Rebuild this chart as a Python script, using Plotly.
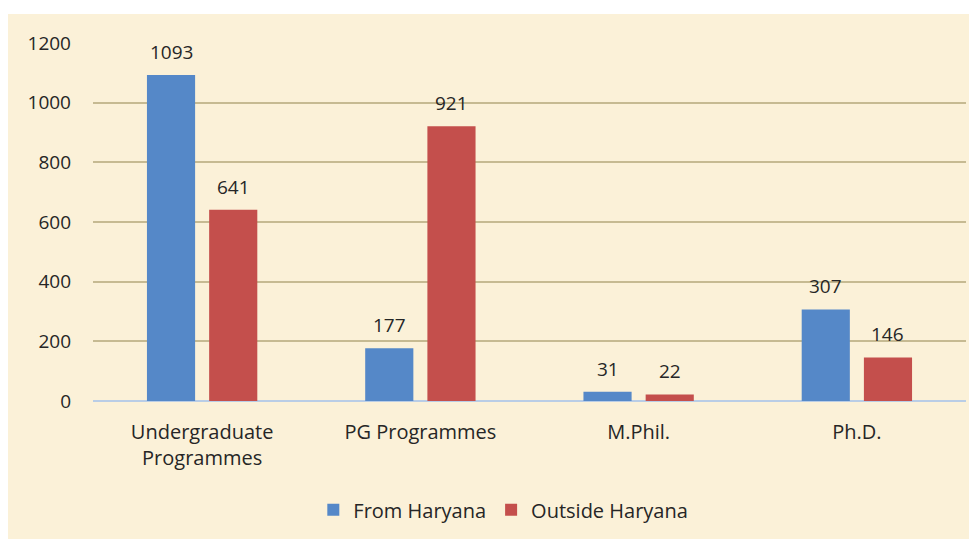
import plotly.graph_objects as go

categories = ["Undergraduate<br>Programmes", "PG Programmes", "M.Phil.", "Ph.D."]
from_haryana = [1093, 177, 31, 307]
outside_haryana = [641, 921, 22, 146]
y_ticks = [0, 200, 400, 600, 800, 1000, 1200]

FONT = "Open Sans, sans-serif"
FS = 19
TXT = "#262626"
BLUE = "#5588C8"
RED = "#C44F4C"
BG = "#FBF1D8"

fig = go.Figure()
fig.add_trace(go.Bar(name="From Haryana", x=categories, y=from_haryana,
                     marker=dict(color=BLUE, line=dict(width=0))))
fig.add_trace(go.Bar(name="Outside Haryana", x=categories, y=outside_haryana,
                     marker=dict(color=RED, line=dict(width=0))))

annotations = []
for vals, shift in ((from_haryana, -31), (outside_haryana, 31)):
    for c, v in zip(categories, vals):
        annotations.append(dict(x=c, y=v, xref="x", yref="y", text=str(v),
                                showarrow=False, xshift=shift, yshift=23,
                                font=dict(family=FONT, size=FS, color=TXT)))

fig.update_layout(
    width=969, height=531,
    margin=dict(l=85, r=11, t=35, b=137),
    paper_bgcolor=BG,
    plot_bgcolor="rgba(0,0,0,0)",
    barmode="group", bargap=0.43, bargroupgap=0.226,
    font=dict(family=FONT, size=FS, color=TXT),
    showlegend=True,
    legend=dict(orientation="h", x=0.47, xanchor="center", y=-0.30, yanchor="middle",
                font=dict(family=FONT, size=20, color=TXT), bgcolor="rgba(0,0,0,0)",
                itemwidth=30),
    annotations=annotations,
    shapes=[dict(type="rect", xref="paper", yref="paper", x0=-0.2, x1=1.2,
                 y0=1.0808, y1=1.3, layer="below", line=dict(width=0),
                 fillcolor="white")],
    xaxis=dict(showgrid=False, zeroline=False, showline=False, ticks="",
               tickfont=dict(family=FONT, size=20, color=TXT), ticklabelstandoff=17),
    yaxis=dict(range=[0, 1200], tickvals=y_ticks, showgrid=True, gridcolor="#C6BA92",
               gridwidth=2, zeroline=True, zerolinecolor="#B9CDE6", zerolinewidth=2,
               showline=False, ticks="", ticklabelstandoff=21,
               tickfont=dict(family=FONT, size=FS, color=TXT)),
)

fig.write_html("out.html", post_script="document.body.style.overflow='hidden';")
